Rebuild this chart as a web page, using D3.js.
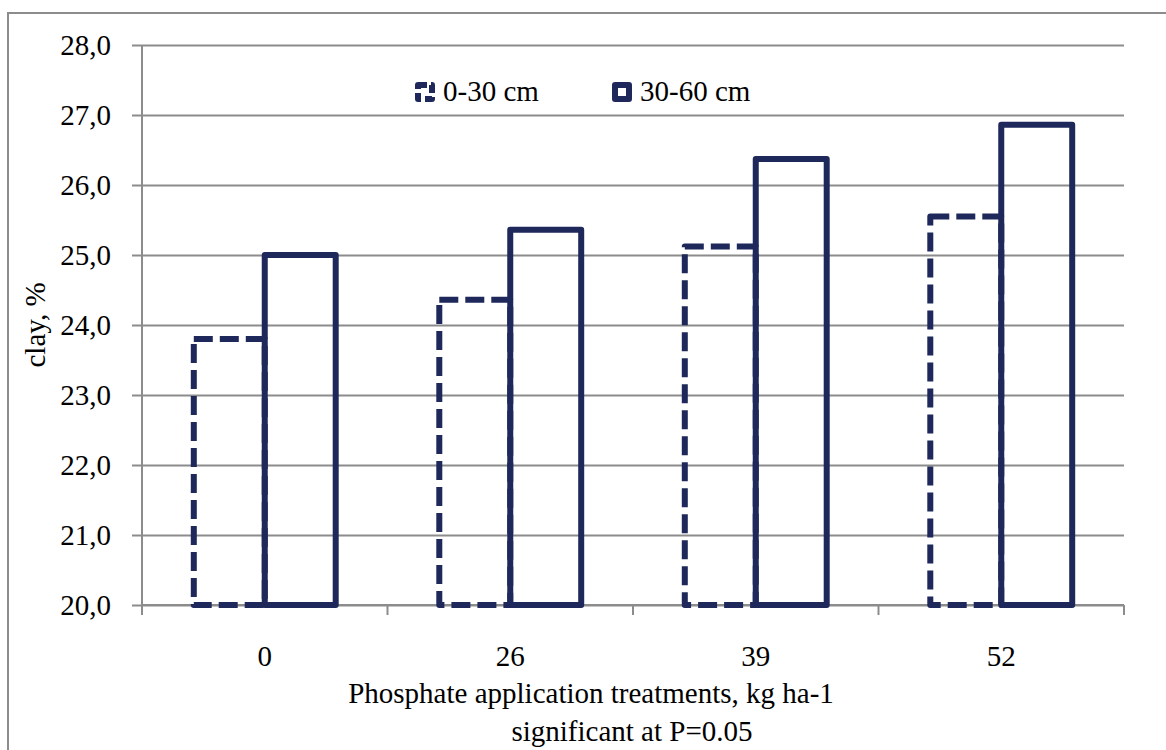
<!DOCTYPE html>
<html>
<head>
<meta charset="utf-8">
<script src="https://cdn.jsdelivr.net/npm/d3@7"></script>
<style>
  body { margin: 0; background: #fff; }
  text { font-family: "Liberation Serif", serif; fill: #000; }
</style>
</head>
<body>
<div id="chart"></div>
<script>
// chart values
var categories = ["0", "26", "39", "52"];
var seriesNames = ["0-30 cm", "30-60 cm"];
var depth0to30 = [23.8, 24.36, 25.12, 25.55];
var depth30to60 = [25.0, 25.36, 26.37, 26.86];
var yTickValues = [20, 21, 22, 23, 24, 25, 26, 27, 28];

var width = 1166, height = 750;
var margin = {top: 45, right: 42, bottom: 145, left: 142};
var barColor = "#1f285a";
var gridColor = "#8c8c8c";
var fontSize = "29px";

var svg = d3.select("#chart").append("svg")
    .attr("width", width)
    .attr("height", height);

// outer frame
svg.append("rect")
    .attr("x", 8).attr("y", 13)
    .attr("width", width + 20).attr("height", height + 20)
    .attr("fill", "none")
    .attr("stroke", gridColor)
    .attr("stroke-width", 2);

var xScale = d3.scaleBand()
    .domain(categories)
    .range([margin.left, width - margin.right]);

var xSub = d3.scaleBand()
    .domain(seriesNames)
    .range([0, xScale.bandwidth()])
    .paddingInner(0)
    .paddingOuter(0.73);

var yScale = d3.scaleLinear()
    .domain([20, 28])
    .range([height - margin.bottom, margin.top]);

// gridlines + y axis
var yAxis = d3.axisLeft(yScale)
    .tickValues(yTickValues)
    .tickSize(-(width - margin.left - margin.right))
    .tickPadding(31)
    .tickFormat(function (d) { return d3.format(".1f")(d).replace(".", ","); });

var gy = svg.append("g")
    .attr("transform", "translate(" + margin.left + ",0)")
    .call(yAxis);
gy.select(".domain").remove();
gy.selectAll(".tick line")
    .attr("x1", -10)
    .attr("stroke", gridColor)
    .attr("stroke-width", 2);
gy.selectAll(".tick text")
    .style("font-size", fontSize)
    .style("font-family", "Liberation Serif, serif")
    .attr("fill", "#000");

svg.append("line")
    .attr("x1", margin.left).attr("x2", margin.left)
    .attr("y1", margin.top).attr("y2", yScale(20))
    .attr("stroke", gridColor).attr("stroke-width", 2);

// x axis
var gx = svg.append("g")
    .attr("transform", "translate(0," + yScale(20) + ")")
    .call(d3.axisBottom(xScale).tickSize(0).tickPadding(40));
gx.select(".domain").remove();
gx.selectAll(".tick text")
    .style("font-size", fontSize)
    .style("font-family", "Liberation Serif, serif")
    .attr("fill", "#000");

svg.append("line")
    .attr("x1", margin.left).attr("x2", width - margin.right)
    .attr("y1", yScale(20)).attr("y2", yScale(20))
    .attr("stroke", gridColor).attr("stroke-width", 2);

// category separators
var sepPositions = categories.map(function (c) { return xScale(c); })
    .concat([xScale(categories[categories.length - 1]) + xScale.bandwidth()]);
svg.selectAll("line.sep").data(sepPositions).enter().append("line")
    .attr("class", "sep")
    .attr("x1", function (d) { return d; }).attr("x2", function (d) { return d; })
    .attr("y1", yScale(20)).attr("y2", yScale(20) + 10)
    .attr("stroke", gridColor).attr("stroke-width", 2);

// bars
var seriesData = [
    {name: seriesNames[0], values: depth0to30, dash: "19,7"},
    {name: seriesNames[1], values: depth30to60, dash: null}
];

seriesData.forEach(function (s) {
    svg.append("g").selectAll("rect").data(s.values).enter().append("rect")
        .attr("x", function (d, i) { return xScale(categories[i]) + xSub(s.name); })
        .attr("y", function (d) { return yScale(d); })
        .attr("width", xSub.bandwidth())
        .attr("height", function (d) { return yScale(20) - yScale(d); })
        .attr("fill", "none")
        .attr("stroke", barColor)
        .attr("stroke-width", 6)
        .attr("stroke-linejoin", "round")
        .attr("stroke-dasharray", s.dash);
});

// legend
var legend = [
    {name: seriesNames[0], x: 418, dash: "9,4"},
    {name: seriesNames[1], x: 615, dash: null}
];
legend.forEach(function (l) {
    svg.append("rect")
        .attr("x", l.x).attr("y", 85)
        .attr("width", 14).attr("height", 14)
        .attr("fill", "none")
        .attr("stroke", barColor)
        .attr("stroke-width", 6)
        .attr("stroke-linejoin", "round")
        .attr("stroke-dasharray", l.dash);
    svg.append("text")
        .attr("x", l.x + 25).attr("y", 101)
        .style("font-size", fontSize)
        .text(l.name);
});

// axis titles
svg.append("text")
    .attr("transform", "translate(45," + yScale(24) + ") rotate(-90)")
    .attr("text-anchor", "middle")
    .style("font-size", fontSize)
    .text("clay, %");

svg.append("text")
    .attr("x", 591).attr("y", 703)
    .attr("text-anchor", "middle")
    .style("font-size", fontSize)
    .text("Phosphate application treatments, kg ha-1");

svg.append("text")
    .attr("x", 632).attr("y", 741)
    .attr("text-anchor", "middle")
    .style("font-size", fontSize)
    .text("significant at P=0.05");
</script>
</body>
</html>
